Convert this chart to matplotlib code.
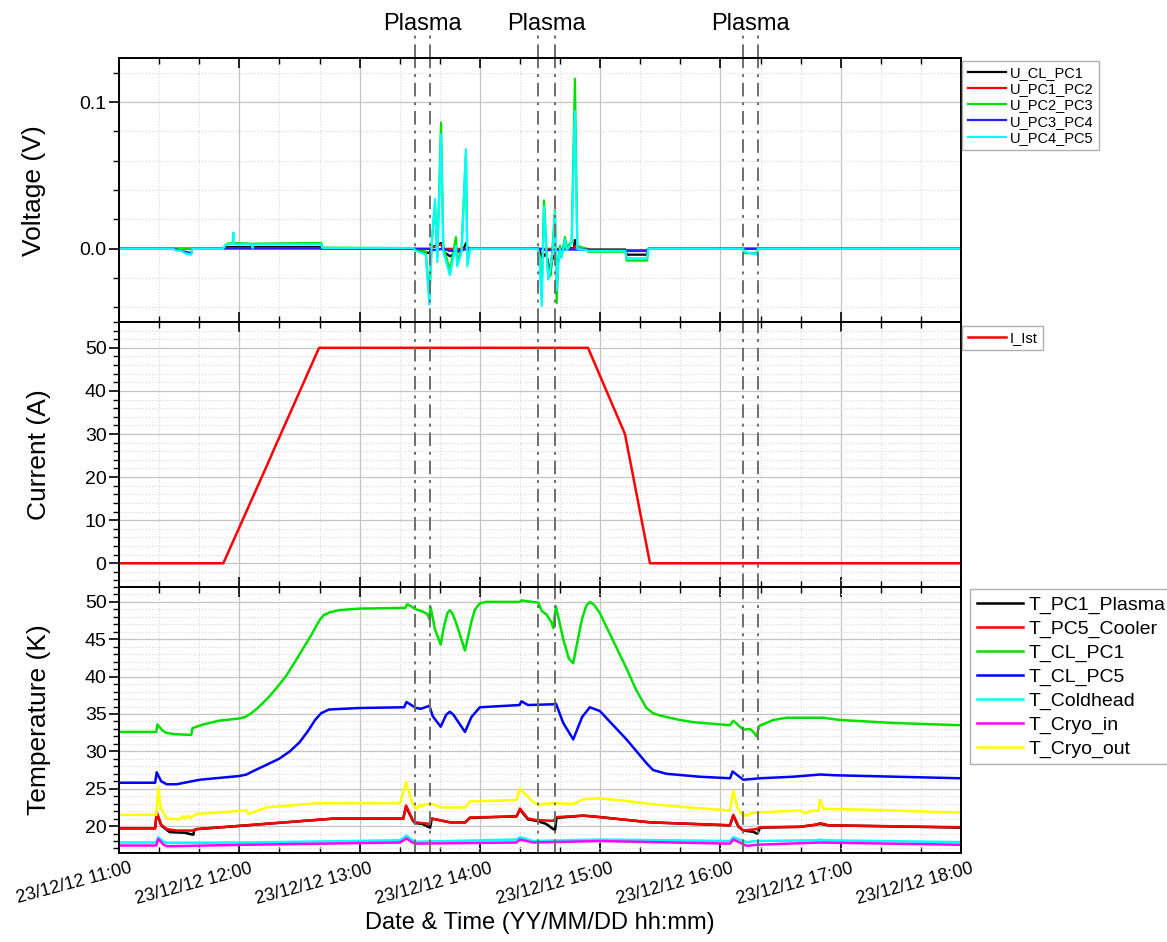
import datetime as dt
import matplotlib
matplotlib.use("Agg")
import matplotlib.pyplot as plt
import matplotlib.dates as mdates
import matplotlib.transforms as mtrans
from matplotlib.ticker import MultipleLocator, FormatStrFormatter

plt.rcParams['font.family'] = ['Liberation Sans', 'DejaVu Sans']

DAY = dt.datetime(2023, 12, 12, 11, 0)

# time given as hours after 11:00, value
u_cl_pc1 = [(0, 0), (0.866, 0), (0.88, 0.0012), (1.68, 0.0012), (1.69, 0.0002), (2.45, 0.0002),
            (2.58, -0.003), (2.60, 0.001), (2.68, 0.004), (2.70, -0.002), (2.75, -0.005), (2.80, -0.003),
            (2.87, 0.001), (2.885, 0.004), (2.90, 0.0), (3.49, 0.0), (3.52, -0.006), (3.55, -0.003),
            (3.588, -0.017), (3.60, -0.004), (3.64, -0.010), (3.70, 0.002), (3.78, 0.0), (3.79, 0.006),
            (3.81, 0.0), (3.90, -0.0005), (4.21, -0.0005), (4.22, -0.004), (4.39, -0.004), (4.40, 0), (7.0, 0)]
u_pc1_pc2 = [(0, 0), (0.866, 0), (0.88, 0.0005), (1.68, 0.0005), (1.69, 0), (2.58, 0), (2.677, 0.003),
             (2.70, 0), (3.78, 0), (3.79, 0.002), (3.81, 0), (3.90, 0), (3.91, -0.001), (4.39, -0.001),
             (4.40, 0), (7.0, 0)]
u_pc2_pc3 = [(0, 0), (0.866, 0), (0.88, 0.002), (0.90, 0.0035), (0.95, 0.004), (1.10, 0.0035), (1.11, 0.001),
             (1.12, 0.0035), (1.68, 0.004), (1.69, 0.0008), (2.45, 0.0005), (2.55, -0.002), (2.58, -0.033),
             (2.60, 0.005), (2.627, 0.030), (2.646, -0.006), (2.677, 0.086), (2.696, 0.002), (2.751, -0.015),
             (2.774, -0.004), (2.801, 0.008), (2.812, -0.010), (2.848, 0.001), (2.884, 0.065), (2.895, -0.004),
             (2.918, 0.0005), (3.48, 0.0005), (3.494, -0.004), (3.514, -0.030), (3.533, 0.033), (3.555, -0.002),
             (3.569, -0.020), (3.588, -0.018), (3.605, 0.003), (3.624, 0.026), (3.638, -0.037), (3.652, -0.006),
             (3.666, 0.002), (3.68, -0.004), (3.707, 0.008), (3.722, 0.001), (3.763, 0.005), (3.79, 0.116),
             (3.81, 0.002), (3.888, 0.0), (3.90, -0.002), (4.21, -0.002), (4.22, -0.008), (4.39, -0.008),
             (4.40, 0.0), (5.19, 0.0), (5.20, -0.003), (5.30, -0.003), (5.31, 0.0), (7.0, 0.0)]
u_pc3_pc4 = [(0, 0), (0.45, 0), (0.5, -0.001), (0.55, -0.002), (0.60, -0.003), (0.61, 0), (0.866, 0),
             (0.88, 0.0003), (1.68, 0.0003), (1.69, 0), (2.58, 0), (2.60, -0.001), (2.70, 0.0), (2.75, -0.0015),
             (2.85, -0.001), (2.90, 0), (3.50, 0), (3.55, -0.001), (3.70, -0.0005), (3.90, -0.0005),
             (3.91, -0.001), (4.21, -0.001), (4.22, -0.0015), (4.39, -0.0015), (4.40, 0), (7.0, 0)]
u_pc4_pc5 = [(0, 0), (0.45, 0), (0.47, -0.001), (0.52, -0.0015), (0.55, -0.003), (0.60, -0.004), (0.61, 0),
             (0.866, 0), (0.88, 0.002), (0.90, 0.003), (0.945, 0.0035), (0.95, 0.011), (0.955, 0.003),
             (1.10, 0.003), (1.11, 0.0005), (1.12, 0.003), (1.68, 0.003), (1.69, 0.0005), (2.45, 0.0005),
             (2.46, -0.001), (2.55, -0.004), (2.58, -0.038), (2.60, 0.004), (2.627, 0.034), (2.646, -0.009),
             (2.677, 0.078), (2.696, -0.002), (2.751, -0.018), (2.774, -0.008), (2.80, 0.002), (2.812, -0.012),
             (2.848, -0.002), (2.884, 0.068), (2.895, -0.012), (2.918, 0.0), (3.48, 0.0), (3.494, -0.005),
             (3.514, -0.039), (3.533, 0.029), (3.555, -0.004), (3.569, -0.021), (3.588, -0.012), (3.605, -0.001),
             (3.624, 0.025), (3.638, -0.028), (3.652, -0.010), (3.666, 0.000), (3.68, -0.006), (3.707, 0.006),
             (3.722, -0.001), (3.763, 0.004), (3.79, 0.094), (3.81, 0.0), (3.888, -0.001), (3.90, -0.0015),
             (4.21, -0.0015), (4.22, -0.0065), (4.39, -0.0065), (4.40, 0), (5.19, 0), (5.20, -0.002),
             (5.25, -0.003), (5.30, -0.004), (5.31, 0), (7.0, 0)]

i_ist = [(0, 0), (0.867, 0), (1.26, 24.6), (1.27, 25.3), (1.663, 50), (3.899, 50), (4.206, 30),
         (4.414, 0), (7.0, 0)]

t_pc1_plasma = [(0, 19.7), (0.30, 19.7), (0.313, 21.8), (0.35, 20.1), (0.396, 19.5), (0.42, 19.2), (0.55, 19.1),
                (0.60, 18.9), (0.618, 18.85), (0.625, 19.5), (0.65, 19.6), (1.061, 20.1), (1.782, 21.0),
                (2.363, 21.0), (2.386, 22.6), (2.44, 20.8), (2.461, 20.4), (2.52, 20.3), (2.57, 19.9),
                (2.586, 19.8), (2.6, 21.0), (2.752, 20.5), (2.88, 20.5), (2.917, 21.1), (3.305, 21.3),
                (3.333, 22.2), (3.40, 20.9), (3.471, 20.7), (3.55, 20.3), (3.61, 19.6), (3.625, 19.5),
                (3.637, 21.1), (3.86, 21.4), (3.998, 21.2), (4.414, 20.5), (5.079, 20.1), (5.107, 21.4),
                (5.15, 19.9), (5.19, 19.4), (5.24, 19.3), (5.28, 19.2), (5.301, 19.0), (5.31, 19.05),
                (5.329, 19.8), (5.662, 19.9), (5.80, 20.2), (5.828, 20.3), (5.9, 20.1), (6.992, 19.8)]
t_pc5_cooler = [(0, 19.7), (0.30, 19.7), (0.313, 21.85), (0.35, 20.2), (0.396, 19.6), (0.479, 19.4), (0.62, 19.4),
                (0.65, 19.6), (1.061, 20.1), (1.782, 21.0), (2.363, 21.0), (2.386, 22.75), (2.44, 20.9),
                (2.461, 20.5), (2.58, 20.3), (2.6, 21.0), (2.752, 20.5), (2.88, 20.5), (2.917, 21.15),
                (3.305, 21.3), (3.333, 22.35), (3.40, 21.0), (3.471, 20.8), (3.61, 20.7), (3.637, 21.2),
                (3.86, 21.4), (3.998, 21.2), (4.414, 20.5), (5.079, 20.1), (5.107, 21.5), (5.15, 20.0),
                (5.19, 19.4), (5.301, 19.6), (5.329, 19.85), (5.662, 19.9), (5.80, 20.2), (5.828, 20.4),
                (5.9, 20.1), (6.992, 19.85)]
t_cl_pc1 = [(0, 32.6), (0.31, 32.6), (0.319, 33.6), (0.36, 32.8), (0.39, 32.5), (0.46, 32.3), (0.60, 32.2),
            (0.61, 33.1), (0.70, 33.6), (0.83, 34.1), (1.0, 34.4), (1.05, 34.6), (1.10, 35.1), (1.16, 35.9),
            (1.247, 37.3), (1.31, 38.5), (1.385, 40.0), (1.46, 41.9), (1.524, 43.6), (1.57, 44.8),
            (1.607, 45.8), (1.64, 46.8), (1.67, 47.6), (1.70, 48.2), (1.75, 48.6), (1.829, 48.9),
            (1.995, 49.1), (2.38, 49.2), (2.397, 49.7), (2.469, 49.0), (2.51, 48.8), (2.55, 48.5),
            (2.566, 48.3), (2.58, 47.7), (2.59, 49.3), (2.627, 46.3), (2.674, 44.3), (2.70, 46.6),
            (2.73, 48.5), (2.75, 48.9), (2.77, 48.5), (2.80, 47.3), (2.876, 43.5), (2.90, 45.2),
            (2.93, 47.4), (2.96, 49.0), (3.0, 49.8), (3.05, 50.0), (3.33, 50.0), (3.345, 50.2),
            (3.486, 49.9), (3.514, 48.8), (3.555, 48.3), (3.597, 47.2), (3.61, 46.5), (3.632, 49.4),
            (3.66, 47.4), (3.693, 45.0), (3.74, 42.4), (3.776, 41.8), (3.80, 43.8), (3.85, 47.8),
            (3.885, 49.5), (3.914, 50.0), (3.95, 49.6), (3.997, 48.5), (4.219, 41.1), (4.30, 38.2),
            (4.385, 35.8), (4.44, 35.1), (4.496, 34.8), (4.662, 34.2), (4.774, 33.9), (5.079, 33.5),
            (5.107, 34.1), (5.19, 32.9), (5.245, 33.0), (5.273, 32.6), (5.30, 32.0), (5.322, 33.4),
            (5.44, 34.2), (5.55, 34.5), (5.854, 34.5), (5.99, 34.2), (6.437, 33.8), (6.991, 33.5)]
t_cl_pc5 = [(0, 25.8), (0.30, 25.8), (0.313, 27.2), (0.35, 26.0), (0.396, 25.6), (0.48, 25.6), (0.67, 26.2),
            (1.0, 26.7), (1.06, 26.9), (1.108, 27.3), (1.2, 28.0), (1.33, 29.0), (1.42, 30.0), (1.5, 31.2),
            (1.57, 32.7), (1.63, 34.2), (1.68, 35.1), (1.745, 35.6), (1.995, 35.8), (2.37, 35.9),
            (2.39, 36.6), (2.469, 35.8), (2.51, 35.7), (2.58, 36.1), (2.608, 34.7), (2.674, 33.3),
            (2.72, 34.9), (2.75, 35.3), (2.78, 34.9), (2.876, 32.6), (2.93, 34.6), (3.0, 35.9),
            (3.33, 36.2), (3.345, 36.7), (3.40, 36.2), (3.61, 36.3), (3.632, 36.4), (3.693, 33.8),
            (3.776, 31.6), (3.85, 34.6), (3.914, 35.9), (3.997, 35.4), (4.219, 31.6), (4.386, 28.4),
            (4.44, 27.5), (4.55, 27.0), (4.83, 26.6), (5.08, 26.4), (5.101, 27.3), (5.19, 26.2),
            (5.33, 26.4), (5.6, 26.6), (5.83, 26.9), (5.95, 26.8), (6.99, 26.4)]
t_coldhead = [(0, 17.8), (0.31, 17.8), (0.325, 18.5), (0.37, 17.9), (0.40, 17.75), (1.061, 17.8), (2.336, 18.1),
              (2.39, 18.7), (2.44, 18.1), (2.461, 17.9), (3.305, 18.2), (3.333, 18.5), (3.443, 18.0),
              (3.998, 18.2), (5.079, 18.0), (5.107, 18.5), (5.22, 17.85), (5.3, 18.0), (5.8, 18.1),
              (5.828, 18.2), (5.86, 18.1), (6.99, 17.85)]
t_cryo_in = [(0, 17.4), (0.31, 17.4), (0.325, 18.3), (0.37, 17.5), (0.40, 17.3), (1.061, 17.5), (2.336, 17.8),
             (2.39, 18.35), (2.44, 17.8), (2.461, 17.65), (3.305, 17.8), (3.333, 18.2), (3.443, 17.8),
             (3.998, 18.0), (5.079, 17.65), (5.107, 18.2), (5.22, 17.35), (5.3, 17.5), (5.828, 17.8), (6.99, 17.5)]
t_cryo_out = [(0, 21.5), (0.31, 21.5), (0.327, 25.2), (0.345, 22.5), (0.396, 21.0), (0.507, 20.9), (0.53, 21.3),
              (0.55, 21.0), (0.57, 21.4), (0.59, 21.1), (0.645, 21.6), (1.061, 22.1), (1.075, 21.6),
              (1.227, 22.5), (1.643, 23.06), (2.336, 23.06), (2.386, 25.9), (2.44, 23.0), (2.461, 22.5),
              (2.475, 22.3), (2.503, 22.9), (2.52, 22.6), (2.54, 22.9), (2.613, 22.9), (2.669, 22.5),
              (2.88, 22.5), (2.917, 23.3), (3.166, 23.4), (3.305, 23.5), (3.333, 25.0), (3.443, 23.2),
              (3.499, 22.8), (3.526, 22.95), (3.61, 23.06), (3.776, 22.95), (3.86, 23.6), (3.998, 23.7),
              (4.2, 23.4), (4.414, 22.95), (4.8, 22.4), (5.079, 22.1), (5.107, 24.75), (5.14, 22.5),
              (5.19, 21.2), (5.21, 21.6), (5.23, 21.4), (5.246, 21.7), (5.301, 21.8), (5.662, 22.1),
              (5.703, 21.7), (5.75, 22.0), (5.815, 22.1), (5.828, 23.5), (5.856, 22.3), (6.216, 22.2),
              (6.992, 21.8)]

plasma = [(2.46, 2.585), (3.483, 3.624), (5.187, 5.31)]

volt_series = [("U_CL_PC1", u_cl_pc1, "black"), ("U_PC1_PC2", u_pc1_pc2, "red"),
               ("U_PC2_PC3", u_pc2_pc3, "#00e000"), ("U_PC3_PC4", u_pc3_pc4, "#2020ff"),
               ("U_PC4_PC5", u_pc4_pc5, "cyan")]
temp_series = [("T_PC1_Plasma", t_pc1_plasma, "black"), ("T_PC5_Cooler", t_pc5_cooler, "red"),
               ("T_CL_PC1", t_cl_pc1, "#00e000"), ("T_CL_PC5", t_cl_pc5, "#0000ff"),
               ("T_Coldhead", t_coldhead, "cyan"), ("T_Cryo_in", t_cryo_in, "magenta"),
               ("T_Cryo_out", t_cryo_out, "yellow")]


def unpack(pts):
    ts = [DAY + dt.timedelta(hours=p[0]) for p in pts]
    vs = [p[1] for p in pts]
    return ts, vs


fig = plt.figure(figsize=(11.67, 9.42), dpi=100)
ax1 = fig.add_axes([0.102, 0.658, 0.7215, 0.2803])
ax2 = fig.add_axes([0.102, 0.3769, 0.7215, 0.2813], sharex=ax1)
ax3 = fig.add_axes([0.102, 0.0945, 0.7215, 0.2824], sharex=ax1)

for name, pts, col in volt_series:
    ts, vs = unpack(pts)
    ax1.plot(ts, vs, color=col, lw=1.6, label=name)

ts, vs = unpack(i_ist)
ax2.plot(ts, vs, color="red", lw=1.8, label="I_Ist")

for name, pts, col in temp_series:
    ts, vs = unpack(pts)
    ax3.plot(ts, vs, color=col, lw=1.8, label=name)

ax1.set_ylim(-0.05, 0.13)
ax1.yaxis.set_major_locator(MultipleLocator(0.1))
ax1.yaxis.set_minor_locator(MultipleLocator(0.02))
ax1.yaxis.set_major_formatter(FormatStrFormatter('%.1f'))
ax2.set_ylim(-5.5, 56)
ax2.yaxis.set_major_locator(MultipleLocator(10))
ax2.yaxis.set_minor_locator(MultipleLocator(2))
ax3.set_ylim(16.4, 52)
ax3.yaxis.set_major_locator(MultipleLocator(5))
ax3.yaxis.set_minor_locator(MultipleLocator(1))

ax1.set_ylabel("Voltage (V)", fontsize=19, labelpad=24)
ax2.set_ylabel("Current (A)", fontsize=19, labelpad=24)
ax3.set_ylabel("Temperature (K)", fontsize=19, labelpad=24)
ax3.set_xlabel("Date & Time (YY/MM/DD hh:mm)", fontsize=17, labelpad=3)

ax3.set_xlim(DAY, DAY + dt.timedelta(hours=7))
ax3.xaxis.set_major_locator(mdates.HourLocator())
ax3.xaxis.set_minor_locator(mdates.MinuteLocator(byminute=[20, 40]))
ax3.xaxis.set_major_formatter(mdates.DateFormatter("%y/%m/%d %H:%M"))

for ax in (ax1, ax2, ax3):
    ax.grid(which='major', color='#c4c4c4', lw=0.9, ls='-')
    ax.grid(which='minor', color='#d8d8d8', lw=0.8, ls=':')
    ax.set_axisbelow(True)
    for sp in ax.spines.values():
        sp.set_linewidth(1.4)
    ax.tick_params(axis='y', which='major', direction='out', length=7, width=1.2, labelsize=14, pad=2)
    ax.tick_params(axis='y', which='minor', direction='out', length=4, width=1.0)
    ax.tick_params(axis='x', which='major', direction='in', length=7, width=1.2, top=True)
    ax.tick_params(axis='x', which='minor', direction='in', length=4, width=1.0, top=True)
    for a, b in plasma:
        for x in (a, b):
            ax.axvline(DAY + dt.timedelta(hours=x), color='#6e6e6e', lw=1.4, ls=(0, (7, 3, 1.5, 3)))

ax1.tick_params(axis='x', labelbottom=False)
ax2.tick_params(axis='x', labelbottom=False)
ax3.tick_params(axis='x', which='major', labelsize=13, pad=5)
shift = mtrans.ScaledTranslation(0.1, 0, fig.dpi_scale_trans)
for lab in ax3.get_xticklabels():
    lab.set_rotation(15)
    lab.set_ha('right')
    lab.set_rotation_mode('anchor')
    lab.set_transform(lab.get_transform() + shift)

# plasma markers above the top panel
for a, b in plasma:
    for x in (a, b):
        ax1.plot([DAY + dt.timedelta(hours=x)] * 2, [1.0, 1.09], transform=ax1.get_xaxis_transform(),
                 color='#6e6e6e', lw=1.4, ls=(0, (7, 3, 1.5, 3)), clip_on=False)
    ax1.text(DAY + dt.timedelta(hours=(a + b) / 2), 1.13, "Plasma", transform=ax1.get_xaxis_transform(),
             ha='center', va='center', fontsize=17)

leg_kw = dict(loc='upper left', borderaxespad=0.1, fancybox=False, edgecolor='#b0b0b0', framealpha=1,
              borderpad=0.35, handletextpad=0.3)
ax1.legend(bbox_to_anchor=(1.0, 0.995), fontsize=10.5, handlelength=2.6, labelspacing=0.15, **leg_kw)
ax2.legend(bbox_to_anchor=(1.0, 0.99), fontsize=10.5, handlelength=2.6, labelspacing=0.15, **leg_kw)
ax3.legend(bbox_to_anchor=(1.008, 1.0), fontsize=14, handlelength=2.4, labelspacing=0.32, **leg_kw)

fig.savefig("out.png", dpi=100)
